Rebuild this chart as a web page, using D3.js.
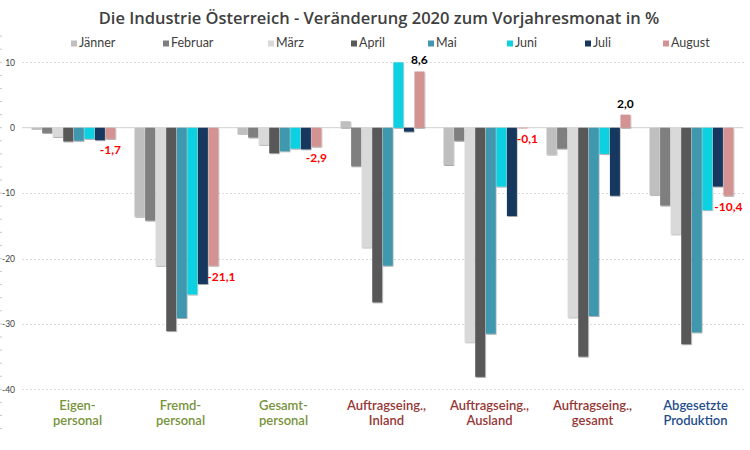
<!DOCTYPE html>
<html><head><meta charset="utf-8">
<script src="https://cdn.jsdelivr.net/npm/d3@7/dist/d3.min.js"></script>
<style>body{margin:0;background:#fff}svg{display:block}</style>
</head><body>
<svg id="c" width="750" height="450"></svg>
<script>
const categories = [["Eigen-","personal"],["Fremd-","personal"],["Gesamt-","personal"],["Auftragseing.,","Inland"],["Auftragseing.,","Ausland"],["Auftragseing.,","gesamt"],["Abgesetzte","Produktion"]];
const categoryColors = ["#77933c","#77933c","#77933c","#953735","#953735","#953735","#1f4e8c"];
const months = ["Jänner","Februar","März","April","Mai","Juni","Juli","August"];
const monthColors = ["#bfbfbf","#7f7f7f","#d9d9d9","#595959","#4198ae","#0fd0e0","#17375e","#d39393"];
const jaenner = [-0.3,-13.6,-1.0,1.0,-5.7,-4.1,-10.3];
const februar = [-0.8,-14.2,-1.5,-5.9,-2.0,-3.2,-11.9];
const maerz   = [-1.4,-21.1,-2.6,-18.3,-32.8,-29.0,-16.3];
const april   = [-2.1,-31.1,-3.9,-26.7,-38.1,-35.0,-33.1];
const mai     = [-2.0,-29.1,-3.6,-21.1,-31.5,-28.8,-31.3];
const juni    = [-1.7,-25.5,-3.2,10.0,-9.0,-4.0,-12.6];
const juli    = [-1.9,-23.9,-3.3,-0.6,-13.5,-10.4,-9.0];
const august  = [-1.7,-21.1,-2.9,8.6,-0.1,2.0,-10.4];
const yTicks = [10,0,-10,-20,-30,-40];
const series = [jaenner,februar,maerz,april,mai,juni,juli,august];

const svg = d3.select("#c");
const F = "Lato, 'DejaVu Sans', sans-serif";
const FT = "'Open Sans', 'DejaVu Sans', sans-serif";
const hy = s => s.replace("\u2212","-");
const defs = svg.append("defs");
const f = defs.append("filter").attr("id","sh").attr("x","-20%").attr("y","-5%").attr("width","150%").attr("height","115%");
f.append("feDropShadow").attr("dx",0.6).attr("dy",1).attr("stdDeviation",0.5).attr("flood-color","#000").attr("flood-opacity",0.35);

const x0 = d3.scaleBand().domain(d3.range(categories.length)).range([22,743]).paddingInner(0.18).paddingOuter(0.09);
const x1 = d3.scaleBand().domain(d3.range(months.length)).range([0,x0.bandwidth()]);
const y = d3.scaleLinear().domain([-40,10]).range([389.3,62.3]);

// faint frame artifacts
const minor = d3.range(-46,15,2);
svg.append("g").selectAll("line").data(minor).join("line")
  .attr("x1",0).attr("x2",2).attr("y1",d=>y(d)).attr("y2",d=>y(d)).attr("stroke","#c8c8c8").attr("stroke-width",1);

// gridlines
svg.append("g").selectAll("line").data(yTicks.filter(d=>d!==0)).join("line")
  .attr("x1",22).attr("x2",745).attr("y1",d=>Math.round(y(d))+0.5).attr("y2",d=>Math.round(y(d))+0.5)
  .attr("stroke","#dcdcdc").attr("stroke-dasharray","2,2");

// y axis labels
const yAxis = d3.axisLeft(y).tickValues(yTicks).tickSize(0).tickPadding(0).tickFormat(d=>hy(d3.format("d")(d)));
const ya = svg.append("g").attr("transform","translate(15,0)").call(yAxis);
ya.select(".domain").remove();
ya.selectAll("text").attr("font-family",F).attr("font-size",8.5).attr("fill","#404040");

// zero line
svg.append("line").attr("x1",22).attr("x2",743).attr("y1",y(0)).attr("y2",y(0)).attr("stroke","#d9d9d9").attr("stroke-width",1.2);

// bars
const g = svg.append("g");
series.forEach((vals,si)=>{
  g.append("g").selectAll("rect").data(vals).join("rect")
    .attr("x",(d,i)=>x0(i)+x1(si)+0.3)
    .attr("width",x1.bandwidth()-0.6)
    .attr("y",d=>y(Math.max(0,d)))
    .attr("height",d=>Math.abs(y(d)-y(0)))
    .attr("fill",monthColors[si])
    .attr("filter","url(#sh)");
});

// data labels for August
const ai = months.length-1;
svg.append("g").selectAll("text").data(august).join("text")
  .attr("x",(d,i)=>x0(i)+x1(ai)+x1.bandwidth()/2 + (i===1?8:(i===4?5:0)))
  .attr("y",d=>d<0? y(d)+15 : y(d)-7)
  .attr("text-anchor","middle")
  .attr("font-family",F).attr("font-weight",700).attr("font-size",12)
  .attr("fill",d=>d<0?"#ff0000":"#000")
  .text(d=>hy(d3.format(".1f")(d)).replace(".",","));

// category labels
const cl = svg.append("g").selectAll("text").data(categories).join("text")
  .attr("x",(d,i)=>x0(i)+x0.bandwidth()/2+4)
  .attr("y",410)
  .attr("text-anchor","middle")
  .attr("font-family",F).attr("font-size",13).attr("font-weight",600)
  .attr("fill",(d,i)=>categoryColors[i]);
cl.each(function(d){
  const t=d3.select(this);
  t.append("tspan").attr("x",t.attr("x")).attr("dy",0).text(d[0]);
  t.append("tspan").attr("x",t.attr("x")).attr("dy",14.5).text(d[1]);
});

// title
svg.append("text").attr("x",379).attr("y",24).attr("text-anchor","middle")
  .attr("font-family",FT).attr("font-weight",600).attr("font-size",16.5).attr("fill","#404040")
  .text("Die Industrie Österreich - Veränderung 2020 zum Vorjahresmonat in %");

// legend
const legX = [71,163,268,351,428,507,585,663];
const lg = svg.append("g").selectAll("g").data(months).join("g")
  .attr("transform",(d,i)=>`translate(${legX[i]},46.5)`);
lg.append("rect").attr("x",0).attr("y",-6).attr("width",6).attr("height",6).attr("fill",(d,i)=>monthColors[i]);
lg.append("text").attr("x",8).attr("y",0).attr("font-family",F).attr("font-size",12.5).attr("fill","#404040").text(d=>d);
</script>
</body></html>
